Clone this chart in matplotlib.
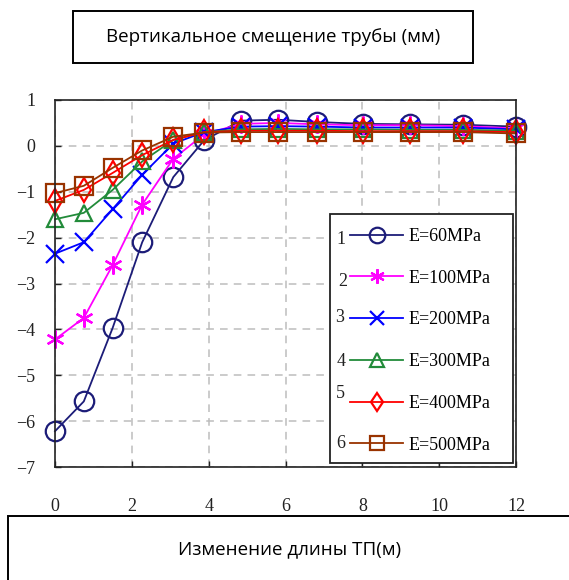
import matplotlib
matplotlib.use("Agg")
import matplotlib.pyplot as plt
from matplotlib.patches import Rectangle

# ---- data ----
x = [0, 0.75, 1.5, 2.27, 3.08, 3.88, 4.84, 5.81, 6.83, 8.01, 9.23, 10.62, 12.0]
s60 = [-6.22, -5.57, -3.97, -2.10, -0.68, 0.12, 0.55, 0.57, 0.52, 0.48, 0.47, 0.46, 0.42]
s100 = [-4.22, -3.75, -2.60, -1.28, -0.28, 0.25, 0.48, 0.50, 0.47, 0.45, 0.45, 0.43, 0.38]
s200 = [-2.35, -2.10, -1.38, -0.63, 0.05, 0.30, 0.42, 0.43, 0.42, 0.40, 0.40, 0.40, 0.36]
s300 = [-1.60, -1.46, -0.96, -0.34, 0.13, 0.30, 0.36, 0.37, 0.36, 0.36, 0.35, 0.35, 0.33]
s400 = [-1.20, -0.96, -0.59, -0.20, 0.13, 0.30, 0.33, 0.33, 0.33, 0.32, 0.32, 0.32, 0.30]
s500 = [-1.03, -0.87, -0.48, -0.10, 0.20, 0.29, 0.30, 0.30, 0.30, 0.30, 0.30, 0.30, 0.27]
series = [s60, s100, s200, s300, s400, s500]
labels = ["E=60MPa", "E=100MPa", "E=200MPa", "E=300MPa", "E=400MPa", "E=500MPa"]
numbers = ["1", "2", "3", "4", "5", "6"]
xticks = [0, 2, 4, 6, 8, 10, 12]
yticks = [1, 0, -1, -2, -3, -4, -5, -6, -7]
title = "Вертикальное смещение трубы (мм)"
xlabel = "Изменение длины ТП(м)"

colors = ["#1c1c78", "#ff00ff", "#0000ff", "#228b3a", "#ff0000", "#993300"]
markers = ["o", (6, 2, 0), "x", "^", "d", "s"]
msizes = [14, 13, 13, 12, 12, 13]

W, H = 569, 580
fig = plt.figure(figsize=(W / 100, H / 100), dpi=100)
ax = fig.add_axes([55 / W, 1 - 467 / H, 461 / W, 367 / H])

for ys, c, m, ms, lab in zip(series, colors, markers, msizes, labels):
    ax.plot(x, ys, color=c, lw=1.3, marker=m, ms=ms, mfc="none", mec=c,
            mew=1.6, label=lab, clip_on=False)

ax.set_xlim(0, 12)
ax.set_ylim(-7, 1)
ax.set_xticks(xticks)
ax.set_yticks(yticks)
ax.grid(True, ls=(0, (5, 4)), color="#bdbdbd", lw=1.1)
ax.set_axisbelow(True)
for sp in ax.spines.values():
    sp.set_color("#222222")
    sp.set_linewidth(1.2)
ax.tick_params(axis="both", direction="in", length=4, width=1.0,
               labelsize=13, colors="#222222")
ax.tick_params(axis="x", pad=22)
ax.tick_params(axis="y", pad=14)
for t in ax.get_xticklabels() + ax.get_yticklabels():
    t.set_fontfamily("Liberation Serif")

# legend frame
ax.add_patch(Rectangle(((330 - 55) / 461, (467 - 463) / 367), 183 / 461, 249 / 367,
                       transform=ax.transAxes, fill=True, fc="white",
                       ec="#222222", lw=1.3, zorder=5, clip_on=False))
leg = ax.legend(loc="upper left", bbox_to_anchor=((350 - 55) / 461, (467 - 228) / 367),
                frameon=False, borderpad=0, borderaxespad=0,
                handlelength=2.95, handletextpad=0.28, labelspacing=1.37,
                markerscale=0.8, prop={"family": "Liberation Serif", "size": 13})
leg.set_zorder(6)
num_y = [240, 281, 318, 361, 393, 444]
num_x = [341, 343, 340, 341, 340, 341]
for n, nx, ny in zip(numbers, num_x, num_y):
    fig.text(nx / W, 1 - ny / H, n, ha="center", va="center",
             family="Liberation Serif", fontsize=13, color="#222222", zorder=7)

# title box
fig.patches.append(Rectangle((72.7 / W, 1 - 63 / H), (473 - 72.7) / W, 52 / H,
                             transform=fig.transFigure, fill=False, ec="black", lw=1.4))
fig.text(273 / W, 1 - 37 / H, title, ha="center", va="center",
         family="Open Sans", fontsize=13.5, color="black")

# bottom box
fig.patches.append(Rectangle((8 / W, -0.1), 1.1, 0.1 + (1 - 516 / H),
                             transform=fig.transFigure, fill=False, ec="black", lw=1.4))
fig.text(289.5 / W, 1 - 549 / H, xlabel, ha="center", va="center",
         family="Open Sans", fontsize=13.5, color="black")

fig.savefig("out.png", dpi=100)
